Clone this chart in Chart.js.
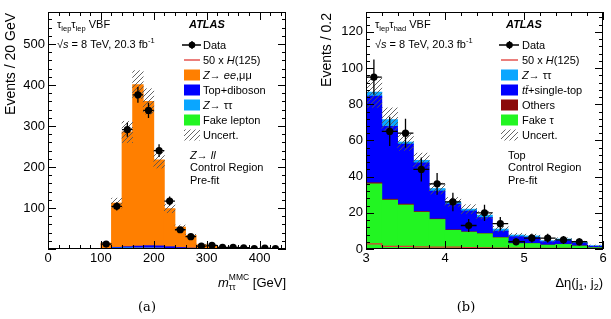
<!DOCTYPE html>
<html>
<head>
<meta charset="utf-8">
<script src="https://cdn.jsdelivr.net/npm/chart.js@4.4.0/dist/chart.umd.min.js"></script>
<style>
  body { margin: 0; background: #fff; }
  #wrap { position: relative; width: 611px; height: 319px; }
  canvas { position: absolute; top: 0; }
  #massChart { left: 0; }
  #detaChart { left: 305px; }
</style>
</head>
<body>
<div id="wrap">
  <canvas id="massChart" width="305" height="319"></canvas>
  <canvas id="detaChart" width="306" height="319"></canvas>
</div>
<script>
// (a) tau_lep tau_lep VBF, Z->ll control region, m_tautau^MMC in 20 GeV bins
var massBins = [10, 30, 50, 70, 90, 110, 130, 150, 170, 190, 210, 230, 250, 270, 290, 310, 330, 350, 370, 390, 410, 430];
var massData = [null, null, null, null, null, 12, 104, 291, 376, 338, 240, 117, 47, 30, 7, 9, 4, 4, 3, 1, 2, 1];
var massZll = [0, 0, 0, 0, 0, 13, 108, 280, 394, 352, 210, 93, 50, 31, 9, 7, 3, 2, 1.5, 1, 0.7, 0.5];
var massTopDib = [0, 0, 0, 0, 0, 0.5, 1.5, 2.5, 4, 5, 5, 4, 2.5, 1.5, 1, 0.8, 0.6, 0.5, 0.3, 0.3, 0.2, 0.2];
var massZtt = [0, 0, 0, 0, 0, 0.5, 1, 1.5, 2, 2, 1.5, 1, 0.5, 0.3, 0.2, 0.1, 0.1, 0.1, 0, 0, 0, 0];
var massFake = [0, 0, 0, 0, 0, 0.5, 1.5, 1.5, 1, 1, 1, 0.5, 0.5, 0.3, 0.2, 0.2, 0.1, 0.1, 0.1, 0, 0, 0];
var massHiggs = [0, 0, 0, 0, 0, 0.2, 0.5, 1, 1.5, 1.5, 1.5, 1, 0.8, 0.5, 0.3, 0.2, 0.1, 0.1, 0.1, 0, 0, 0];
var massUnc = [0, 0, 0, 0, 0, 2, 12, 26, 34, 31, 20, 10, 5, 3, 1.5, 1.5, 1, 0.8, 0.6, 0.5, 0.4, 0.3];

// (b) tau_lep tau_had VBF, top control region, delta eta(j1, j2) in 0.2 bins
var detaBins = [3.1, 3.3, 3.5, 3.7, 3.9, 4.1, 4.3, 4.5, 4.7, 4.9, 5.1, 5.3, 5.5, 5.7, 5.9];
var detaData = [95, 65, 64, 44, 36, 26, 13, 20, 14, 4, 6, 6, 5, 4, null];
var detaZtt = [2.2, 3.7, 1.2, 1.4, 1.4, 1.2, 1.0, 1.3, 1.1, 0.9, 0.8, 0.6, 0.9, 0.6, 0.3];
var detaTop = [47.9, 40.3, 33.1, 26.9, 15.4, 14.2, 11.5, 8.8, 3.5, 3.7, 3.3, 1.8, 2.0, 1.4, 0.8];
var detaOthers = [0.6, 0.5, 0.5, 0.4, 0.3, 0.3, 0.2, 0.2, 0.2, 0.1, 0.1, 0.1, 0.1, 0.1, 0];
var detaFake = [36, 27, 24.3, 20.3, 16.3, 10.3, 9.3, 8.4, 6.2, 3, 3, 2.1, 2.5, 1.6, 0.7];
var detaHiggs = [2.8, 1.5, 1.5, 1.2, 1, 1, 0.8, 0.7, 0.5, 0.5, 0.4, 0.3, 0.3, 0.2, 0.2];
var detaUnc = [8.5, 6.5, 4.6, 4, 3, 2.5, 2.5, 2, 1.5, 1, 1, 0.8, 0.7, 0.6, 0.4];

var FONT = '"Liberation Sans", Arial, sans-serif';
var ORANGE = '#ff7f00', BLUE = '#0000ff', SKY = '#0aa6ff', GREEN = '#22f522', DKRED = '#8b0a0a', HRED = '#e03a35';

// diagonal hatch for the MC uncertainty band
var tile = document.createElement('canvas');
tile.width = 5; tile.height = 5;
var tc = tile.getContext('2d');
tc.strokeStyle = '#555'; tc.lineWidth = 0.9;
tc.beginPath();
tc.moveTo(0, 5); tc.lineTo(5, 0);
tc.moveTo(-1, 1); tc.lineTo(1, -1);
tc.moveTo(4, 6); tc.lineTo(6, 4);
tc.stroke();
var hatch = tc.createPattern(tile, 'repeat');

function pts(bins, vals) {
  return bins.map(function (b, i) { return {x: b, y: vals[i]}; });
}
function band(bins, parts, unc) {
  return bins.map(function (b, i) {
    var t = 0;
    parts.forEach(function (p) { t += p[i]; });
    return {x: b, y: unc[i] > 0 ? [t - unc[i], t + unc[i]] : null};
  });
}
function steps(bins, vals, w) {
  var p = bins.map(function (b, i) { return {x: b - w / 2, y: vals[i]}; });
  p.push({x: bins[bins.length - 1] + w / 2, y: vals[vals.length - 1]});
  return p;
}
function errs(bins, vals, w) {
  var p = [];
  bins.forEach(function (b, i) {
    var v = vals[i];
    if (v == null) return;
    var e = Math.sqrt(v);
    p.push({x: b, y: v - e}, {x: b, y: v + e}, {x: b, y: null});
    p.push({x: b - w / 2, y: v}, {x: b + w / 2, y: v}, {x: b + w / 2, y: null});
  });
  return p;
}
// stacked MC: lower order sits lower in the stack
function mc(label, data, color, order) {
  return {type: 'bar', label: label, data: data, backgroundColor: color, borderWidth: 0,
    stack: 'mc', order: order, barPercentage: 1, categoryPercentage: 1, inflateAmount: 0.4};
}

// rich text: segments {t, f (font), dy, keep}
function rich(ctx, x, y, segs, align) {
  var w = 0, kept = 0;
  segs.forEach(function (s) {
    ctx.font = s.f;
    var sw = ctx.measureText(s.t).width;
    if (s.keep) { kept = sw; return; }
    w += Math.max(sw, kept); kept = 0;
  });
  var cx = align === 'right' ? x - w : (align === 'center' ? x - w / 2 : x);
  ctx.textAlign = 'left';
  ctx.textBaseline = 'alphabetic';
  kept = 0;
  segs.forEach(function (s) {
    ctx.font = s.f;
    ctx.fillText(s.t, cx, y + (s.dy || 0));
    var sw = ctx.measureText(s.t).width;
    if (s.keep) { kept = sw; return; }
    cx += Math.max(sw, kept); kept = 0;
  });
}
function f(size, style) { return (style ? style + ' ' : '') + size + 'px ' + FONT; }

var frameTicks = {
  id: 'frameTicks',
  afterDatasetsDraw: function (chart) {
    var o = chart.options.plugins.frameTicks;
    var ctx = chart.ctx, a = chart.chartArea, sx = chart.scales.x, sy = chart.scales.y;
    ctx.save();
    ctx.strokeStyle = '#000';
    ctx.lineWidth = 1;
    ctx.beginPath();
    var v, p, big;
    for (v = o.x[0]; v <= o.x[1] + 1e-9; v += o.x[3]) {
      p = Math.round(sx.getPixelForValue(v)) + 0.5;
      big = Math.abs(v / o.x[2] - Math.round(v / o.x[2])) < 1e-6 ? 8 : 4;
      ctx.moveTo(p, a.bottom); ctx.lineTo(p, a.bottom - big);
      ctx.moveTo(p, a.top); ctx.lineTo(p, a.top + big);
    }
    for (v = o.y[0]; v <= o.y[1] + 1e-9; v += o.y[3]) {
      p = Math.round(sy.getPixelForValue(v)) + 0.5;
      big = Math.abs(v / o.y[2] - Math.round(v / o.y[2])) < 1e-6 ? 8 : 4;
      ctx.moveTo(a.left, p); ctx.lineTo(a.left + big, p);
      ctx.moveTo(a.right, p); ctx.lineTo(a.right - big, p);
    }
    ctx.stroke();
    ctx.strokeRect(Math.round(a.left) + 0.5, Math.round(a.top) + 0.5,
      Math.round(a.right - a.left) - 1, Math.round(a.bottom - a.top) - 1);
    ctx.restore();
  }
};

var annot = {
  id: 'annot',
  afterDraw: function (chart) {
    var o = chart.options.plugins.annot;
    var ctx = chart.ctx;
    ctx.save();
    ctx.fillStyle = '#000';
    o.texts.forEach(function (t) { rich(ctx, t.x, t.y, t.segs, t.align); });

    // y axis title
    ctx.save();
    ctx.translate(o.ytitle.x, o.ytitle.y);
    ctx.rotate(-Math.PI / 2);
    rich(ctx, 0, 0, [{t: o.ytitle.t, f: f(14)}], 'right');
    ctx.restore();

    // legend
    var lx = o.legend.x, lw = o.legend.w, tx = o.legend.tx;
    o.legend.rows.forEach(function (r, i) {
      var cy = o.legend.y0 + i * 15;
      if (r.kind === 'data') {
        ctx.strokeStyle = '#000'; ctx.lineWidth = 1.3;
        ctx.beginPath();
        ctx.moveTo(lx - 2, cy); ctx.lineTo(lx + lw + 1, cy);
        ctx.moveTo(lx + lw / 2, cy - 4); ctx.lineTo(lx + lw / 2, cy + 4);
        ctx.stroke();
        ctx.beginPath(); ctx.arc(lx + lw / 2, cy, 3.3, 0, 2 * Math.PI); ctx.fill();
      } else if (r.kind === 'line') {
        ctx.strokeStyle = HRED; ctx.lineWidth = 1.3;
        ctx.beginPath(); ctx.moveTo(lx, cy); ctx.lineTo(lx + lw, cy); ctx.stroke();
      } else {
        ctx.fillStyle = r.color;
        ctx.fillRect(lx, cy - 5.5, lw, 11);
        ctx.fillStyle = '#000';
      }
      rich(ctx, tx, cy + 4, r.segs, 'left');
    });
    ctx.restore();
  }
};

function makeChart(id, cfg) {
  var datasets = [
    {type: 'line', label: 'Data', data: pts(cfg.bins, cfg.data), showLine: false, pointRadius: 3.6,
      pointBackgroundColor: '#000', pointBorderWidth: 0, stack: 'd', order: 0},
    {type: 'line', label: 'err', data: errs(cfg.bins, cfg.data, cfg.w), borderColor: '#000', borderWidth: 1.3,
      pointRadius: 0, spanGaps: false, stack: 'e', order: 1},
    {type: 'line', label: '50 x H(125)', data: steps(cfg.bins, cfg.higgs, cfg.w), borderColor: HRED, borderWidth: 1.2,
      pointRadius: 0, stepped: true, stack: 'h', order: 2},
    {type: 'bar', label: 'Uncert.', data: band(cfg.bins, cfg.parts, cfg.unc), backgroundColor: hatch, borderWidth: 0,
      stack: 'u', grouped: false, order: 3, barPercentage: 1, categoryPercentage: 1}
  ].concat(cfg.mc);

  return new Chart(document.getElementById(id), {
    data: {datasets: datasets},
    plugins: [frameTicks, annot],
    options: {
      responsive: false,
      animation: false,
      layout: {padding: cfg.pad},
      scales: {
        x: {type: 'linear', offset: false, min: cfg.xr[0], max: cfg.xr[1],
          grid: {display: false, drawTicks: false, offset: false}, border: {display: false},
          ticks: {stepSize: cfg.xr[2], includeBounds: false, color: '#000', padding: 2, maxRotation: 0,
            font: {family: FONT, size: 13}},
          afterFit: function (s) { s.height = cfg.xh; }},
        y: {stacked: true, min: 0, max: cfg.yr[1],
          grid: {display: false, drawTicks: false}, border: {display: false},
          ticks: {stepSize: cfg.yr[2], includeBounds: false, color: '#000', padding: 3,
            font: {family: FONT, size: 13},
            callback: function (v) { return (v === 0 && !cfg.yZero) ? '' : v; }},
          afterFit: function (s) { s.width = cfg.yw; }}
      },
      plugins: {
        legend: {display: false},
        tooltip: {enabled: false},
        frameTicks: {x: cfg.xt, y: cfg.yt},
        annot: cfg.annot
      }
    }
  });
}

var n = f(11), it = f(11, 'italic'), sb = f(7.5);

makeChart('massChart', {
  bins: massBins, data: massData, higgs: massHiggs, unc: massUnc, w: 20,
  parts: [massZll, massTopDib, massZtt, massFake],
  mc: [
    mc('Fake lepton', pts(massBins, massFake), GREEN, 4),
    mc('Z->tautau', pts(massBins, massZtt), SKY, 5),
    mc('Top+diboson', pts(massBins, massTopDib), BLUE, 6),
    mc('Z->ee,mumu', pts(massBins, massZll), ORANGE, 7)
  ],
  xr: [0, 450, 100], yr: [0, 578, 100], yZero: false,
  xt: [0, 450, 100, 20], yt: [0, 578, 100, 20],
  pad: {top: 12, right: 19, left: 0, bottom: 0}, yw: 48, xh: 70,
  annot: {
    ytitle: {x: 15, y: 13, t: 'Events / 20 GeV'},
    texts: [
      {x: 57, y: 28, segs: [{t: 'τ', f: n}, {t: 'lep', f: sb, dy: 3}, {t: 'τ', f: n}, {t: 'lep', f: sb, dy: 3}, {t: ' VBF', f: n}]},
      {x: 57, y: 48, segs: [{t: '√', f: n}, {t: 's', f: it}, {t: ' = 8 TeV, 20.3 fb', f: n}, {t: '-1', f: sb, dy: -5}]},
      {x: 189, y: 28, segs: [{t: 'ATLAS', f: f(11, 'italic bold')}]},
      {x: 190, y: 159, segs: [{t: 'Z', f: it}, {t: '→ ', f: n}, {t: 'll', f: it}]},
      {x: 190, y: 171, segs: [{t: 'Control Region', f: n}]},
      {x: 190, y: 184, segs: [{t: 'Pre-fit', f: n}]},
      {x: 286, y: 287, segs: [{t: 'm', f: f(13, 'italic')}, {t: 'MMC', f: f(8.5), dy: -7, keep: true},
        {t: 'ττ', f: f(8.5), dy: 3}, {t: ' [GeV]', f: f(13)}], align: 'right'},
      {x: 147, y: 311, segs: [{t: '(a)', f: '13px "DejaVu Serif", "Liberation Serif", serif'}], align: 'center'}
    ],
    legend: {
      x: 184, w: 16, tx: 203, y0: 45,
      rows: [
        {kind: 'data', segs: [{t: 'Data', f: n}]},
        {kind: 'line', segs: [{t: '50 x ', f: n}, {t: 'H', f: it}, {t: '(125)', f: n}]},
        {color: ORANGE, segs: [{t: 'Z', f: it}, {t: '→ ', f: n}, {t: 'ee', f: it}, {t: ',μμ', f: n}]},
        {color: BLUE, segs: [{t: 'Top+diboson', f: n}]},
        {color: SKY, segs: [{t: 'Z', f: it}, {t: '→ ττ', f: n}]},
        {color: GREEN, segs: [{t: 'Fake lepton', f: n}]},
        {color: hatch, segs: [{t: 'Uncert.', f: n}]}
      ]
    }
  }
});

makeChart('detaChart', {
  bins: detaBins, data: detaData, higgs: detaHiggs, unc: detaUnc, w: 0.2,
  parts: [detaZtt, detaTop, detaOthers, detaFake],
  mc: [
    mc('Fake tau', pts(detaBins, detaFake), GREEN, 4),
    mc('Others', pts(detaBins, detaOthers), DKRED, 5),
    mc('ttbar+single-top', pts(detaBins, detaTop), BLUE, 6),
    mc('Z->tautau', pts(detaBins, detaZtt), SKY, 7)
  ],
  xr: [3, 6, 1], yr: [0, 131, 20], yZero: true,
  xt: [3, 6, 1, 0.2], yt: [0, 131, 20, 4],
  pad: {top: 12, right: 8, left: 0, bottom: 0}, yw: 61, xh: 70,
  annot: {
    ytitle: {x: 26, y: 13, t: 'Events / 0.2'},
    texts: [
      {x: 70, y: 28, segs: [{t: 'τ', f: n}, {t: 'lep', f: sb, dy: 3}, {t: 'τ', f: n}, {t: 'had', f: sb, dy: 3}, {t: ' VBF', f: n}]},
      {x: 70, y: 48, segs: [{t: '√', f: n}, {t: 's', f: it}, {t: ' = 8 TeV, 20.3 fb', f: n}, {t: '-1', f: sb, dy: -5}]},
      {x: 201, y: 28, segs: [{t: 'ATLAS', f: f(11, 'italic bold')}]},
      {x: 203, y: 159, segs: [{t: 'Top', f: n}]},
      {x: 203, y: 171, segs: [{t: 'Control Region', f: n}]},
      {x: 203, y: 184, segs: [{t: 'Pre-fit', f: n}]},
      {x: 298, y: 287, segs: [{t: 'Δη(j', f: f(13)}, {t: '1', f: f(9), dy: 3}, {t: ', j', f: f(13)}, {t: '2', f: f(9), dy: 3}, {t: ')', f: f(13)}], align: 'right'},
      {x: 161, y: 311, segs: [{t: '(b)', f: '13px "DejaVu Serif", "Liberation Serif", serif'}], align: 'center'}
    ],
    legend: {
      x: 196, w: 17, tx: 217, y0: 45,
      rows: [
        {kind: 'data', segs: [{t: 'Data', f: n}]},
        {kind: 'line', segs: [{t: '50 x ', f: n}, {t: 'H', f: it}, {t: '(125)', f: n}]},
        {color: SKY, segs: [{t: 'Z', f: it}, {t: '→ ττ', f: n}]},
        {color: BLUE, segs: [{t: 'tt̄', f: it}, {t: '+single-top', f: n}]},
        {color: DKRED, segs: [{t: 'Others', f: n}]},
        {color: GREEN, segs: [{t: 'Fake τ', f: n}]},
        {color: hatch, segs: [{t: 'Uncert.', f: n}]}
      ]
    }
  }
});
</script>
</body>
</html>
